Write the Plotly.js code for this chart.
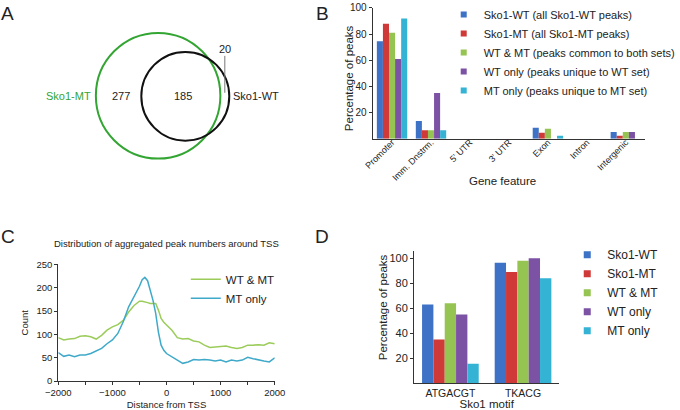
<!DOCTYPE html>
<html><head><meta charset="utf-8">
<script src="https://cdn.plot.ly/plotly-3.0.1.min.js"></script>
<style>html,body{margin:0;padding:0;background:#fff}#chart{width:680px;height:410px}</style>
</head><body><div id="chart"></div>
<script>
// ---------- Panel A: Venn ----------
const vennSetNames = ['Sko1-MT', 'Sko1-WT'];
const vennCounts = [277, 185, 20];   // MT only, both, WT only

// ---------- Panel B: gene features ----------
const featureCats = ['Promoter', 'Imm. Dnstrm.', "5' UTR", "3' UTR", 'Exon', 'Intron', 'Intergenic'];
const featureNames = ['Sko1-WT (all Sko1-WT peaks)', 'Sko1-MT (all Sko1-MT peaks)', 'WT & MT (peaks common to both sets)', 'WT only (peaks unique to WT set)', 'MT only (peaks unique to MT set)'];
const featSko1WT = [74.5, 13.5, 0, 0, 8.4, 0, 5.1];
const featSko1MT = [88, 6.5, 0, 0, 4.6, 0, 2.3];
const featWTMT   = [81, 6.5, 0, 0, 7.6, 0, 5.1];
const featWTonly = [61, 35, 0, 0, 0, 0, 5.1];
const featMTonly = [92, 6.5, 0, 0, 2.3, 0, 0];

// ---------- Panel C: peaks around TSS ----------
const tssDistance = [-2000,-1900,-1800,-1700,-1600,-1500,-1400,-1300,-1200,-1100,-1000,-900,-800,-700,-600,-500,
  -450,-400,-350,-300,-250,-200,-150,-100,-50,
  0,100,200,300,400,500,600,700,800,900,1000,1100,1200,1300,1400,1500,1600,1700,1800,1900,2000];
const tssWTMT = [93,88,90,91,96,97,95,90,98,109,116,121,130,148,162,171,
  171,170,168,166,166,166,152,134,126,
  120,109,93,90,91,86,84,77,72,73,75,75,72,70,72,77,77,78,77,82,80];
const tssMTonly = [61,53,56,52,56,56,59,65,70,80,88,102,127,159,180,203,
  217,222,215,194,173,145,105,77,66,
  59,52,45,38,41,46,45,46,45,43,45,41,45,43,45,51,48,45,43,41,50];
const tssNames = ['WT & MT', 'MT only'];

// ---------- Panel D: motifs ----------
const motifCats = ['ATGACGT', 'TKACG'];
const motifNames = ['Sko1-WT', 'Sko1-MT', 'WT & MT', 'WT only', 'MT only'];
const motifSko1WT = [63, 96.5];
const motifSko1MT = [35, 89];
const motifWTMT   = [64, 98];
const motifWTonly = [55, 100];
const motifMTonly = [15.5, 84];

const colors = ['#3d72c6', '#cf3a38', '#96c452', '#7c52a4', '#35b3d4'];
const FONT = 'Liberation Sans, Arial, Helvetica, sans-serif';
const W = 680, H = 410;
const px = v => v / W;
const py = v => 1 - v / H;

const traces = [];
const featSeries = [featSko1WT, featSko1MT, featWTMT, featWTonly, featMTonly];
featSeries.forEach((vals, i) => {
  traces.push({type: 'bar', x: featureCats, y: vals, name: featureNames[i], marker: {color: colors[i]},
    xaxis: 'x', yaxis: 'y', showlegend: false});
});
featSeries.forEach((vals, i) => {
  traces.push({type: 'scatter', mode: 'markers', x: [null], y: [null], name: featureNames[i],
    marker: {color: colors[i], symbol: 'square', size: 6}, xaxis: 'x', yaxis: 'y', legend: 'legend'});
});
traces.push({type: 'scatter', mode: 'lines', x: tssDistance, y: tssWTMT, name: tssNames[0],
  line: {color: '#9bcc5a', width: 1.5}, xaxis: 'x2', yaxis: 'y2', legend: 'legend2'});
traces.push({type: 'scatter', mode: 'lines', x: tssDistance, y: tssMTonly, name: tssNames[1],
  line: {color: '#3fa9c9', width: 1.5}, xaxis: 'x2', yaxis: 'y2', legend: 'legend2'});
const motifSeries = [motifSko1WT, motifSko1MT, motifWTMT, motifWTonly, motifMTonly];
motifSeries.forEach((vals, i) => {
  traces.push({type: 'bar', x: motifCats, y: vals, name: motifNames[i], marker: {color: colors[i]},
    xaxis: 'x3', yaxis: 'y3', showlegend: false});
});
motifSeries.forEach((vals, i) => {
  traces.push({type: 'scatter', mode: 'markers', x: [null], y: [null], name: motifNames[i],
    marker: {color: colors[i], symbol: 'square', size: 7}, xaxis: 'x3', yaxis: 'y3', legend: 'legend3'});
});

const axLine = {showline: true, linecolor: '#333', linewidth: 1, showgrid: false, zeroline: false};
const tf = s => ({family: FONT, size: s, color: '#222'});
const note = (x, y, text, size, extra) => Object.assign({xref: 'paper', yref: 'paper', x: px(x), y: py(y),
  xanchor: 'center', yanchor: 'middle', text: text, showarrow: false, font: tf(size)}, extra || {});

const layout = {
  width: W, height: H, margin: {l: 0, r: 0, t: 0, b: 0},
  paper_bgcolor: '#fff', plot_bgcolor: 'rgba(0,0,0,0)',
  font: {family: FONT, color: '#222'},
  barmode: 'group', bargap: 0.22, bargroupgap: 0,
  xaxis: Object.assign({}, axLine, {domain: [px(377), px(653)], anchor: 'y', type: 'category',
    tickangle: -45, tickfont: tf(9), ticks: '', ticklabelstandoff: -6}),
  yaxis: Object.assign({}, axLine, {domain: [py(138), py(7)], anchor: 'x', range: [0, 100],
    tickvals: [20, 40, 60, 80, 100], ticks: 'outside', ticklen: 3, tickcolor: '#333', tickfont: tf(10)}),
  xaxis2: Object.assign({}, axLine, {domain: [px(59), px(278)], anchor: 'y2', range: [-2000, 2000],
    tickvals: [-2000, -1000, 0, 1000, 2000], ticks: 'outside', ticklen: 3, tickcolor: '#333', tickfont: tf(9.5),
    minor: {tickvals: [-1500, -500, 500, 1500], ticks: 'outside', ticklen: 3, tickcolor: '#333'},
    title: {text: 'Distance from TSS', font: tf(9.5), standoff: 4}}),
  yaxis2: Object.assign({}, axLine, {domain: [py(381), py(264)], anchor: 'x2', range: [0, 250], dtick: 50,
    ticks: 'outside', ticklen: 3, tickcolor: '#333', tickfont: tf(9.5),
    title: {text: 'Count', font: tf(9.5), standoff: 6}}),
  xaxis3: Object.assign({}, axLine, {domain: [px(419), px(566)], anchor: 'y3', type: 'category',
    ticks: '', tickfont: tf(10.5), title: {text: 'Sko1 motif', font: tf(11.5), standoff: 1}}),
  yaxis3: Object.assign({}, axLine, {domain: [py(383), py(251)], anchor: 'x3', range: [0, 105.6],
    tickvals: [20, 40, 60, 80, 100], ticks: 'outside', ticklen: 3, tickcolor: '#333', tickfont: tf(11)}),
  xaxis4: {domain: [0, px(300)], range: [0, 300], visible: false, fixedrange: true, anchor: 'y4'},
  yaxis4: {domain: [py(200), 1], range: [200, 0], visible: false, fixedrange: true, anchor: 'x4'},
  legend: {x: px(449), xanchor: 'left', y: py(51.5), yanchor: 'middle', font: tf(11), bgcolor: 'rgba(0,0,0,0)',
    itemwidth: 30},
  legend2: {x: px(188), xanchor: 'left', y: py(288.5), yanchor: 'middle', font: tf(11.5), bgcolor: 'rgba(0,0,0,0)',
    itemwidth: 30},
  legend3: {x: px(574), xanchor: 'left', y: py(292.5), yanchor: 'middle', font: tf(12), bgcolor: 'rgba(0,0,0,0)',
    itemwidth: 30},
  shapes: [
    {type: 'circle', xref: 'x4', yref: 'y4', x0: 160 - 63, x1: 160 + 63, y0: 95 - 63, y1: 95 + 63,
      line: {color: '#33a532', width: 2}},
    {type: 'circle', xref: 'x4', yref: 'y4', x0: 187.5 - 44.5, x1: 187.5 + 44.5, y0: 95.5 - 44.5, y1: 95.5 + 44.5,
      line: {color: '#111', width: 2}},
    {type: 'line', xref: 'x4', yref: 'y4', x0: 227.5, x1: 227.5, y0: 55, y1: 92, line: {color: '#777', width: 1}}
  ],
  annotations: [
    {xref: 'x4', yref: 'y4', x: 69.5, y: 95, text: vennSetNames[0], showarrow: false, font: {family: FONT, size: 11, color: '#33a532'}},
    {xref: 'x4', yref: 'y4', x: 259, y: 95, text: vennSetNames[1], showarrow: false, font: tf(11)},
    {xref: 'x4', yref: 'y4', x: 122, y: 95, text: String(vennCounts[0]), showarrow: false, font: tf(11)},
    {xref: 'x4', yref: 'y4', x: 185, y: 95, text: String(vennCounts[1]), showarrow: false, font: tf(11)},
    {xref: 'x4', yref: 'y4', x: 228, y: 48.5, text: String(vennCounts[2]), showarrow: false, font: tf(11)},
    note(168, 243, 'Distribution of aggregated peak numbers around TSS', 9.5),
    note(508, 180, 'Gene feature', 11.5),
    note(353, 77.5, 'Percentage of peaks', 11.5, {textangle: -90}),
    note(387, 306.5, 'Percentage of peaks', 11.5, {textangle: -90}),
    note(0, 12.5, 'A', 19, {xanchor: 'left', yanchor: 'middle', borderpad: 0}),
    note(319, 12.5, 'B', 19, {xanchor: 'left', yanchor: 'middle', borderpad: 0}),
    note(0, 236, 'C', 19, {xanchor: 'left', yanchor: 'middle', borderpad: 0}),
    note(318, 236, 'D', 19, {xanchor: 'left', yanchor: 'middle', borderpad: 0})
  ]
};

Plotly.newPlot('chart', traces, layout, {displayModeBar: false, staticPlot: true});
</script>
</body></html>
